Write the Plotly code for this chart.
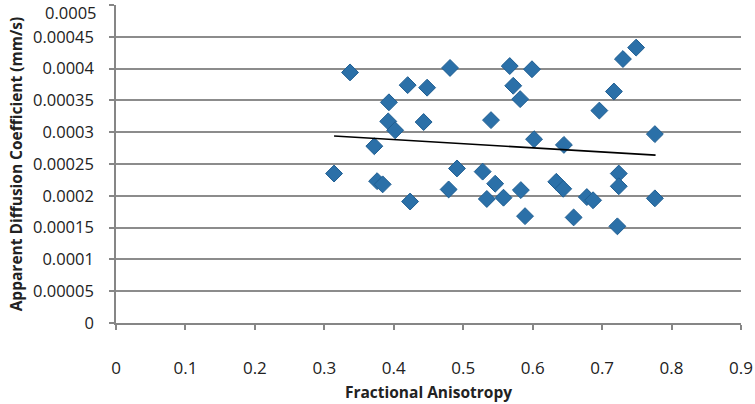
import plotly.graph_objects as go

fa = [0.337, 0.314, 0.372, 0.376, 0.384, 0.393, 0.392, 0.402, 0.420, 0.4235,
      0.448, 0.443, 0.481, 0.479, 0.491, 0.528, 0.540, 0.546, 0.534, 0.558,
      0.567, 0.572, 0.582, 0.583, 0.589, 0.599, 0.602, 0.645, 0.634, 0.644,
      0.659, 0.678, 0.687, 0.696, 0.717, 0.730, 0.749, 0.724, 0.724, 0.722,
      0.776, 0.776]
adc = [0.000394, 0.000235, 0.000278, 0.000223, 0.000218, 0.000347, 0.000317, 0.000303, 0.000374, 0.000191,
       0.000370, 0.000316, 0.000401, 0.000210, 0.000243, 0.000238, 0.000319, 0.000219, 0.000195, 0.000197,
       0.000404, 0.000373, 0.000352, 0.000209, 0.000168, 0.000399, 0.000289, 0.000280, 0.000222, 0.000211,
       0.000166, 0.000198, 0.000193, 0.000334, 0.000364, 0.000415, 0.000433, 0.000235, 0.000215, 0.000152,
       0.000297, 0.000196]
trend_x = [0.314, 0.777]
trend_y = [0.000294, 0.000264]

x_ticks = [0, 0.1, 0.2, 0.3, 0.4, 0.5, 0.6, 0.7, 0.8, 0.9]
x_tick_labels = ["0", "0.1", "0.2", "0.3", "0.4", "0.5", "0.6", "0.7", "0.8", "0.9"]
y_ticks = [0, 0.00005, 0.0001, 0.00015, 0.0002, 0.00025, 0.0003, 0.00035, 0.0004, 0.00045, 0.0005]
y_tick_labels = ["0", "0.00005", "0.0001", "0.00015", "0.0002", "0.00025", "0.0003",
                 "0.00035", "0.0004", "0.00045", "0.0005"]

fig = go.Figure()
fig.add_trace(go.Scatter(
    x=fa, y=adc, mode="markers",
    marker=dict(symbol="diamond", size=13, color="#2B70A8",
                line=dict(color="#1F5E92", width=1)),
    showlegend=False, cliponaxis=False))
fig.add_trace(go.Scatter(
    x=trend_x, y=trend_y, mode="lines",
    line=dict(color="black", width=1.6), showlegend=False))

font = "Open Sans"
tick_font = dict(size=16.5, family=font, color="#222222")

# the top tick label sits at the very top edge; draw it as text anchored below the edge
shown_y_labels = y_tick_labels[:-1] + [""]
fig.add_annotation(x=0, y=y_ticks[-1], xref="x", yref="y", text=y_tick_labels[-1],
                   showarrow=False, xanchor="right", yanchor="top",
                   xshift=-17, yshift=6, font=tick_font)

fig.update_layout(
    width=755, height=404,
    margin=dict(l=115.5, r=13.5, t=5.3, b=81.3, autoexpand=False),
    paper_bgcolor="white", plot_bgcolor="white",
    font=dict(family=font, color="#222222"),
    xaxis=dict(range=[0, 0.9], tickvals=x_ticks, ticktext=x_tick_labels,
               showgrid=False, zeroline=False, automargin=False,
               showline=True, linecolor="#868686", linewidth=1.5,
               ticks="outside", ticklen=5, tickcolor="#868686", tickwidth=1.5,
               ticklabelstandoff=24, ticklabeloverflow="allow",
               tickfont=dict(size=17, family=font, color="#222222"),
               title=dict(text="<b>Fractional Anisotropy</b>", standoff=9,
                          font=dict(size=15.5, family=font, color="#222222"))),
    yaxis=dict(range=[0, 0.0005], tickvals=y_ticks, ticktext=shown_y_labels,
               showgrid=True, gridcolor="#8C8C8C", gridwidth=1.5, zeroline=False,
               automargin=False,
               showline=True, linecolor="#868686", linewidth=1.5,
               ticks="outside", ticklen=5, tickcolor="#868686", tickwidth=1.5,
               ticklabelstandoff=12, ticklabeloverflow="allow",
               tickfont=tick_font,
               title=dict(text="<b>Apparent Diffusion Coefficient (mm/s)</b>", standoff=7,
                          font=dict(size=15.5, family=font, color="#222222"))),
)
fig.write_html("out.html", config={"displayModeBar": False},
               post_script="document.body.style.margin='0';document.body.style.overflow='hidden';")
